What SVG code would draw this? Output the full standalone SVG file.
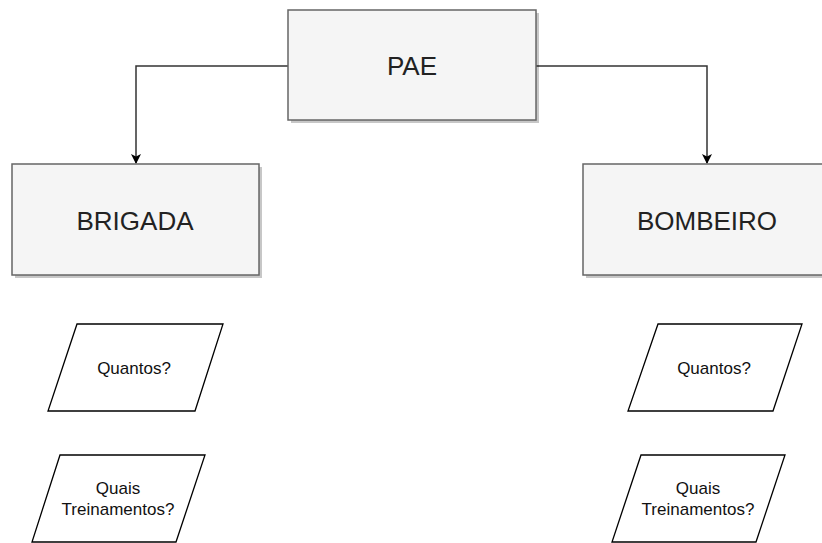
<svg xmlns="http://www.w3.org/2000/svg" width="822" height="543" viewBox="0 0 822 543">
<style>
.box{fill:#f5f5f5;stroke:#666;stroke-width:1.5}
.shadow{fill:#000;opacity:0.22}
.para{fill:#fff;stroke:#000;stroke-width:1.3}
.big{font-family:"Liberation Sans",Arial,sans-serif;font-size:26px;fill:#222;text-anchor:middle}
.small{font-family:"Liberation Sans",Arial,sans-serif;font-size:17px;fill:#111;text-anchor:middle}
.edge{fill:none;stroke:#333;stroke-width:1.5}
</style>
<defs>
<marker id="arr" viewBox="0 0 10 10" refX="9" refY="5" markerWidth="10" markerHeight="10" markerUnits="userSpaceOnUse" orient="auto">
<path d="M0,0 L10,5 L0,10 L2.5,5 Z" fill="#000"/>
</marker>
</defs>
<g id="connectors">
<path class="edge" d="M288,66 H136 V163" marker-end="url(#arr)"/>
<path class="edge" d="M536,66 H707 V163" marker-end="url(#arr)"/>
</g>
<g id="pae">
<rect class="shadow" x="291" y="13" width="248" height="110"/>
<rect class="box" x="288" y="10" width="248" height="110"/>
<text class="big" x="412" y="75">PAE</text>
</g>
<g id="brigada">
<rect class="shadow" x="15" y="167" width="247" height="111"/>
<rect class="box" x="12" y="164" width="247" height="111"/>
<text class="big" x="135" y="230">BRIGADA</text>
</g>
<g id="bombeiro">
<rect class="shadow" x="586" y="167" width="248" height="111"/>
<rect class="box" x="583" y="164" width="248" height="111"/>
<text class="big" x="707" y="230">BOMBEIRO</text>
</g>
<g id="brigada-quantos">
<polygon class="para" points="77,324 223,324 195,411 48,411"/>
<text class="small" x="134" y="374">Quantos?</text>
</g>
<g id="brigada-treinamentos">
<polygon class="para" points="60,455 205,455 176,542 32,542"/>
<text class="small" x="118" y="494">Quais</text>
<text class="small" x="118" y="515">Treinamentos?</text>
</g>
<g id="bombeiro-quantos">
<polygon class="para" points="658,324 802,324 773,411 628,411"/>
<text class="small" x="714" y="374">Quantos?</text>
</g>
<g id="bombeiro-treinamentos">
<polygon class="para" points="641,455 785,455 756,542 612,542"/>
<text class="small" x="698" y="494">Quais</text>
<text class="small" x="698" y="515">Treinamentos?</text>
</g>
</svg>
